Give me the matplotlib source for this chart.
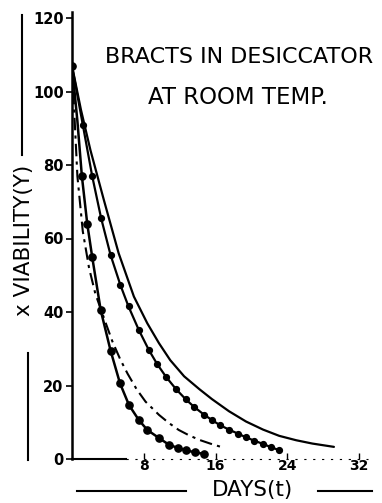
import matplotlib
matplotlib.use("Agg")
import matplotlib.pyplot as plt
from matplotlib.lines import Line2D

# Curve A: innermost, solid with heavy dot markers
days_a = [0, 0.6, 1.1, 1.7, 2.25, 3.2, 4.3, 5.35, 6.35, 7.45, 8.4, 9.7, 10.8,
          11.8, 12.7, 13.7, 14.7]
via_a = [107, 92, 77, 64, 55, 40.5, 29.5, 20.6, 14.7, 10.6, 7.9, 5.7, 3.9,
         3.0, 2.4, 1.8, 1.4]

# Curve B: dash-dot, no markers
days_b = [0, 0.3, 0.6, 1.2, 1.9, 2.6, 3.76, 4.5, 5.4, 6.2, 7.2, 8.2, 9.7, 10.8,
          11.9, 13.0, 14.2, 15.4, 16.6]
via_b = [107, 92, 77, 62, 52, 45, 37, 32, 27, 23.2, 19.0, 15.6, 12.0, 9.8,
         7.9, 6.5, 5.2, 4.2, 3.3]

# Curve C: second from outside, with dot markers
days_c = [0, 1.2, 2.25, 3.25, 4.3, 5.4, 6.3, 7.45, 8.56, 9.5, 10.5, 11.6, 12.7,
          13.6, 14.7, 15.6, 16.5, 17.5, 18.5, 19.4, 20.3, 21.3, 22.2, 23.1]
via_c = [107, 91, 77, 65.5, 55.5, 47.3, 41.5, 35.1, 29.7, 25.8, 22.3, 19.0, 16.2,
         14.2, 12.1, 10.6, 9.2, 8.0, 6.9, 5.9, 5.0, 4.1, 3.2, 2.4]

# Curve D: outermost solid, no markers
days_d = [0, 1.0, 2.06, 3.55, 5.2, 6.9, 8.4, 9.7, 10.95, 12.5, 14.2, 15.6, 17.5,
          19.4, 21.3, 23.1, 25.0, 26.8, 29.2]
via_d = [107, 95, 84, 70.5, 56, 44.2, 36.9, 31.5, 26.9, 22.5, 19.0, 16.3, 13.0,
         10.2, 8.0, 6.3, 5.1, 4.2, 3.3]

yticks = [0, 20, 40, 60, 80, 100, 120]
xticks = [8, 16, 24, 32]

W, H = 382, 503
fig = plt.figure(figsize=(W / 100, H / 100), dpi=100)
fig.patch.set_facecolor("white")

x0, x1 = 72, 375
y0, y1 = 459, 12
ax = fig.add_axes([x0 / W, 1 - y0 / H, (x1 - x0) / W, (y0 - y1) / H])
ax.set_xlim(0, (x1 - x0) / 8.97)
ax.set_ylim(0, (y0 - y1) / 3.675)

ax.plot(days_d, via_d, color="black", lw=1.6, solid_capstyle="round",
        solid_joinstyle="round")
ax.plot(days_c, via_c, color="black", lw=1.6, marker="o", ms=4.2,
        solid_joinstyle="round")
ax.plot(days_b, via_b, color="black", lw=1.5, linestyle=(0, (6, 2.5, 1.5, 2.5)))
ax.plot(days_a, via_a, color="black", lw=1.8, marker="o", ms=5.2,
        markevery=[0] + list(range(2, len(days_a))), solid_joinstyle="round")

for s in ["top", "right"]:
    ax.spines[s].set_visible(False)
ax.spines["left"].set_linewidth(1.8)
ax.spines["bottom"].set_linewidth(1.5)
ax.spines["bottom"].set_bounds(0, 6.0)
ax.plot([6.0, 33], [0, 0], color="black", lw=0.8, linestyle=(0, (2, 6)), clip_on=False)

ax.set_yticks(yticks)
ax.set_yticklabels([str(v) for v in yticks], fontsize=10.5, fontweight="bold")
ax.tick_params(axis="y", direction="out", length=4, width=1.2, pad=2)
ax.set_xticks(xticks)
ax.set_xticklabels([str(v) for v in xticks], fontsize=10, fontweight="bold")
ax.tick_params(axis="x", direction="in", length=4, width=1.0, pad=0)

# title
fig.text(239 / W, 1 - 57 / H, "BRACTS IN DESICCATOR", ha="center", va="center",
         fontsize=16, family="DejaVu Sans")
fig.text(238 / W, 1 - 97 / H, "AT ROOM TEMP.", ha="center", va="center",
         fontsize=16.5, family="DejaVu Sans")

# y label with decorative lines
fig.text(24 / W, 1 - 240 / H, "x VIABILITY(Y)", rotation=90, ha="center", va="center",
         fontsize=15.5)
fig.add_artist(Line2D([22 / W, 22 / W], [1 - 15 / H, 1 - 155 / H], color="black", lw=1.5))
fig.add_artist(Line2D([28 / W, 28 / W], [1 - 353 / H, 1 - 460 / H], color="black", lw=1.5))

# x label with decorative lines
fig.text(252 / W, 1 - 490 / H, "DAYS(t)", ha="center", va="center", fontsize=15.5)
fig.add_artist(Line2D([77 / W, 186 / W], [1 - 491 / H, 1 - 491 / H], color="black", lw=1.5))
fig.add_artist(Line2D([318 / W, 372 / W], [1 - 491 / H, 1 - 491 / H], color="black", lw=1.5))

fig.savefig("out.png", dpi=100, facecolor="white")
